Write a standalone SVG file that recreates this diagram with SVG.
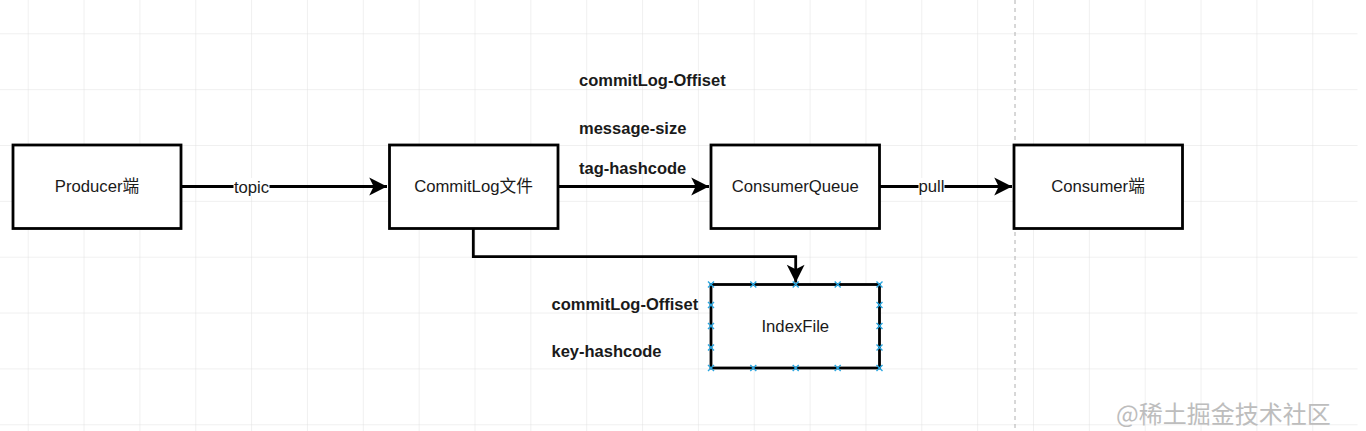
<svg xmlns="http://www.w3.org/2000/svg" width="1366" height="431" viewBox="0 0 1366 431">
<defs>
<style>
.box{fill:#ffffff;stroke:#000000;stroke-width:2.8}
.lbl{font-family:"Liberation Sans","Noto Sans CJK SC",Arial,sans-serif;font-size:16.7px;fill:#1a1a1a;text-anchor:middle;dominant-baseline:central}
.note{font-family:"Liberation Sans",Arial,sans-serif;font-size:16.5px;font-weight:bold;fill:#1a1a1a;dominant-baseline:central}
.edge{fill:none;stroke:#000000;stroke-width:2.8}
.pt{fill:none;stroke:#2aa6e0;stroke-width:1.4}
.bg{fill:#ffffff}
</style>
<pattern id="grid" patternUnits="userSpaceOnUse" x="27.7" y="33.3" width="55.85" height="55.85">
<path d="M0 0 H55.85 M0 0 V55.85" fill="none" stroke="#e1e1e1" stroke-width="1"/>
</pattern>
<marker id="arr" markerUnits="userSpaceOnUse" markerWidth="20" markerHeight="20" viewBox="-17 -9 18 18" refX="0" refY="0" orient="auto">
<path d="M0 0 L-16 -8 L-12 0 L-16 8 Z" fill="#000000"/>
</marker>
</defs>
<rect width="1366" height="431" fill="#ffffff"/>
<rect x="0" y="0" width="1357.5" height="431" fill="url(#grid)"/>
<line x1="1015" y1="0" x2="1015" y2="431" stroke="#b0b0b0" stroke-width="1" stroke-dasharray="4 4"/>

<g id="connectors">
<line class="edge" x1="181" y1="186.5" x2="387" y2="186.5" marker-end="url(#arr)"/>
<line class="edge" x1="558" y1="186.5" x2="709" y2="186.5" marker-end="url(#arr)"/>
<line class="edge" x1="879" y1="186.5" x2="1012" y2="186.5" marker-end="url(#arr)"/>
<polyline class="edge" points="473.3,228.5 473.3,256.7 795.7,256.7 795.7,282.5" marker-end="url(#arr)"/>
<rect class="bg" x="233.5" y="178" width="36" height="18"/>
<text class="lbl" x="251.5" y="187.5">topic</text>
<rect class="bg" x="918.5" y="178" width="26" height="18"/>
<text class="lbl" x="931.5" y="186.5">pull</text>
</g>

<g id="producer">
<rect class="box" x="13" y="145" width="168" height="83.5"/>
<text class="lbl" x="97" y="186.5">Producer端</text>
</g>

<g id="commitlog">
<rect class="box" x="389.5" y="145" width="168.5" height="83.5"/>
<text class="lbl" x="473.5" y="186.5">CommitLog文件</text>
</g>

<g id="consumerqueue">
<rect class="box" x="711" y="145" width="168.5" height="83.5"/>
<text class="lbl" x="795.3" y="186.5">ConsumerQueue</text>
</g>

<g id="consumer">
<rect class="box" x="1014" y="145" width="168.5" height="83.5"/>
<text class="lbl" x="1098" y="186.5">Consumer端</text>
</g>

<g id="indexfile">
<rect class="box" x="711" y="284.5" width="168.5" height="83.5"/>
<text class="lbl" x="795.3" y="326">IndexFile</text>
<path class="pt" d="M708 281.5l6 6m0-6l-6 6 M750.3 281.5l6 6m0-6l-6 6 M792.7 281.5l6 6m0-6l-6 6 M834.7 281.5l6 6m0-6l-6 6 M876.5 281.5l6 6m0-6l-6 6
M708 365l6 6m0-6l-6 6 M750.3 365l6 6m0-6l-6 6 M792.7 365l6 6m0-6l-6 6 M834.7 365l6 6m0-6l-6 6 M876.5 365l6 6m0-6l-6 6
M708 302l6 6m0-6l-6 6 M708 323l6 6m0-6l-6 6 M708 344.5l6 6m0-6l-6 6
M876.5 302l6 6m0-6l-6 6 M876.5 323l6 6m0-6l-6 6 M876.5 344.5l6 6m0-6l-6 6"/>
</g>

<g id="notes">
<text class="note" x="579" y="80">commitLog-Offiset</text>
<text class="note" x="579" y="127.5">message-size</text>
<text class="note" x="579" y="168">tag-hashcode</text>
<text class="note" x="551.5" y="303.5">commitLog-Offiset</text>
<text class="note" x="551.5" y="351">key-hashcode</text>
</g>

<text x="1116" y="423" font-family="'Noto Sans CJK SC','Liberation Sans',sans-serif" font-size="24" fill="#bdbdbd">@稀土掘金技术社区</text>
</svg>
